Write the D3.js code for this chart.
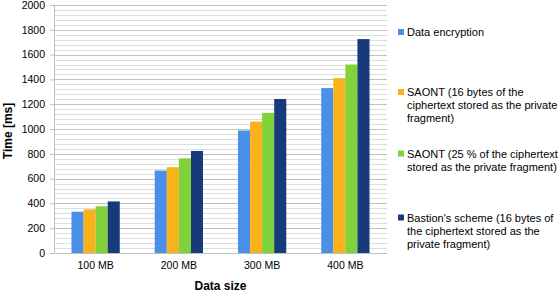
<!DOCTYPE html>
<html>
<head>
<meta charset="utf-8">
<script src="https://cdn.jsdelivr.net/npm/d3@7"></script>
<style>
  body { margin: 0; background: #fff; }
  text { font-family: "Liberation Sans", Arial, sans-serif; fill: #000; }
</style>
</head>
<body>
<div id="chart"></div>
<script>
// chart data
const categories = ["100 MB", "200 MB", "300 MB", "400 MB"];
const seriesNames = [
    "Data encryption",
    "SAONT (16 bytes of the ciphertext stored as the private fragment)",
    "SAONT (25 % of the ciphertext stored as the private fragment)",
    "Bastion's scheme (16 bytes of the ciphertext stored as the private fragment)"
];
const dataEncryption = [333, 665, 988, 1330];
const saont16 = [352, 692, 1060, 1410];
const saont25 = [377, 763, 1130, 1520];
const bastion = [416, 823, 1242, 1725];
const yTicks = [0, 200, 400, 600, 800, 1000, 1200, 1400, 1600, 1800, 2000];

// legend lines as wrapped in the picture
const legendLines = [
    ["Data encryption"],
    ["SAONT (16 bytes of the", "ciphertext stored as the private", "fragment)"],
    ["SAONT (25 % of the ciphertext", "stored as the private fragment)"],
    ["Bastion's scheme (16 bytes of", "the ciphertext stored as the", "private fragment)"]
];
const legendTop = [32, 92, 153.5, 217.5];
const colors = ["#4a90e8", "#f9b21a", "#80d23a", "#163a7a"];

const width = 560, height = 292;
const margin = { top: 5, right: 173, bottom: 39, left: 54 };
const plotW = width - margin.left - margin.right;
const plotH = height - margin.top - margin.bottom;

const svg = d3.select('#chart')
    .append('svg')
    .attr('width', width)
    .attr('height', height);

const g = svg.append('g')
    .attr('transform', `translate(${margin.left},${margin.top})`);

const x = d3.scaleBand().domain(categories).range([0, plotW]);
const x1 = d3.scaleBand().domain(d3.range(4)).range([x.bandwidth() * 0.21, x.bandwidth() * 0.79]);
const y = d3.scaleLinear().domain([0, 2000]).range([plotH, 0]);

// minor gridlines every 40
g.append('g')
    .selectAll('line')
    .data(d3.range(40, 2000, 40).filter(v => v % 200 !== 0))
    .join('line')
    .attr('x1', 0).attr('x2', plotW)
    .attr('y1', d => Math.round(y(d)) + 0.5).attr('y2', d => Math.round(y(d)) + 0.5)
    .attr('stroke', '#d9e0dd');

// major gridlines
g.append('g')
    .selectAll('line')
    .data(yTicks.slice(1))
    .join('line')
    .attr('x1', 0).attr('x2', plotW)
    .attr('y1', d => Math.round(y(d)) + 0.5).attr('y2', d => Math.round(y(d)) + 0.5)
    .attr('stroke', '#b9c4c0');

// y axis
const yAxis = g.append('g')
    .call(d3.axisLeft(y).tickValues(yTicks).tickFormat(d3.format('d')).tickSize(4).tickPadding(5));
yAxis.select('.domain').attr('stroke', '#b9c4c0');
yAxis.selectAll('.tick line').attr('stroke', '#b9c4c0');
yAxis.selectAll('text').style('font-size', '10.5px');

// x axis
const xAxis = g.append('g')
    .attr('transform', `translate(0,${plotH})`)
    .call(d3.axisBottom(x).tickSize(0).tickPadding(9));
xAxis.select('.domain').attr('stroke', '#b9c4c0');
xAxis.selectAll('text').style('font-size', '10.5px');

// bars
const series = [dataEncryption, saont16, saont25, bastion];
const groups = g.append('g')
    .selectAll('g')
    .data(categories)
    .join('g')
    .attr('transform', d => `translate(${x(d)},0)`);

groups.selectAll('rect')
    .data((d, i) => series.map((s, k) => ({ k, value: s[i] })))
    .join('rect')
    .attr('x', d => x1(d.k))
    .attr('y', d => y(d.value))
    .attr('width', x1.bandwidth())
    .attr('height', d => plotH - y(d.value))
    .attr('fill', d => colors[d.k]);

// axis titles
svg.append('text')
    .attr('transform', `translate(12,${margin.top + plotH / 2 + 2}) rotate(-90)`)
    .attr('text-anchor', 'middle')
    .style('font-size', '12px')
    .style('font-weight', 'bold')
    .text('Time [ms]');

svg.append('text')
    .attr('x', margin.left + plotW / 2)
    .attr('y', 290)
    .attr('text-anchor', 'middle')
    .style('font-size', '12px')
    .style('font-weight', 'bold')
    .text('Data size');

// legend
const legend = svg.append('g')
    .attr('transform', 'translate(398,0)');

const items = legend.selectAll('g')
    .data(legendLines)
    .join('g')
    .attr('transform', (d, i) => `translate(0,${legendTop[i]})`);

items.append('rect')
    .attr('x', 0).attr('y', -3)
    .attr('width', 6).attr('height', 6)
    .attr('fill', (d, i) => colors[i]);

items.append('text')
    .attr('y', 4)
    .style('font-size', '11px')
    .selectAll('tspan')
    .data(d => d)
    .join('tspan')
    .attr('x', 9)
    .attr('dy', (d, i) => i === 0 ? 0 : 13)
    .text(d => d);
</script>
</body>
</html>
